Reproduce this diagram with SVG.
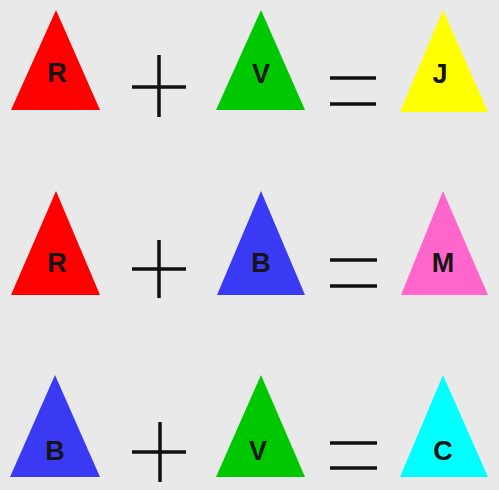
<svg xmlns="http://www.w3.org/2000/svg" width="499" height="490" viewBox="0 0 499 490">
<style>
.lbl{font-family:"Liberation Sans",Arial,sans-serif;font-weight:bold;font-size:27px;fill:#151515;text-anchor:middle}
.op{stroke:#111;stroke-width:3.5;fill:none}
</style>
<rect width="499" height="490" fill="#e9e9e9"/>
<g id="row1">
<g id="r1-red"><polygon points="11,110 56,10 100,110" fill="#ff0000"/><text class="lbl" x="57" y="82">R</text></g>
<g id="r1-plus"><path class="op" d="M159,55V117M132,87H186"/></g>
<g id="r1-green"><polygon points="216,110 261,10 305,110" fill="#00c800"/><text class="lbl" x="261" y="83">V</text></g>
<g id="r1-eq"><path class="op" d="M330,78H376M330,104H376" stroke-width="4"/></g>
<g id="r1-yellow"><polygon points="400,112 443,10 488,112" fill="#ffff00"/><text class="lbl" x="440" y="83">J</text></g>
</g>
<g id="row2">
<g id="r2-red"><polygon points="11,295 56,191 100,295" fill="#ff0000"/><text class="lbl" x="57" y="272">R</text></g>
<g id="r2-plus"><path class="op" d="M159,240V298M132,269H186"/></g>
<g id="r2-blue"><polygon points="217,295 261,191 305,295" fill="#3a3af5"/><text class="lbl" x="261" y="272">B</text></g>
<g id="r2-eq"><path class="op" d="M330,260H377M330,286H377" stroke-width="4"/></g>
<g id="r2-pink"><polygon points="401,295 443,191 488,295" fill="#ff66cc"/><text class="lbl" x="443" y="272">M</text></g>
</g>
<g id="row3">
<g id="r3-blue"><polygon points="10,477 55,375 100,477" fill="#3a3af5"/><text class="lbl" x="55" y="460">B</text></g>
<g id="r3-plus"><path class="op" d="M160,422V482M132,452H186"/></g>
<g id="r3-green"><polygon points="216,477 261,375 305,477" fill="#00c800"/><text class="lbl" x="258" y="460">V</text></g>
<g id="r3-eq"><path class="op" d="M330,443H377M330,468H377" stroke-width="4"/></g>
<g id="r3-cyan"><polygon points="400,477 443,375 488,477" fill="#00ffff"/><text class="lbl" x="443" y="460">C</text></g>
</g>
<g id="connectors"/>
</svg>
